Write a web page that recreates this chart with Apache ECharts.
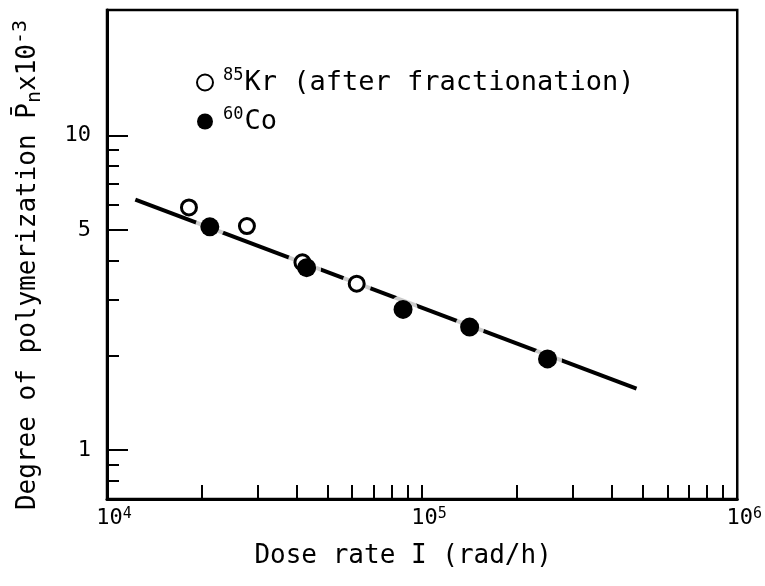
<!DOCTYPE html>
<html>
<head>
<meta charset="utf-8">
<script src="https://cdn.jsdelivr.net/npm/echarts@6/dist/echarts.min.js"></script>
<style>
  html, body { margin: 0; padding: 0; background: #fff; }
  #chart { width: 765px; height: 586px; }
</style>
</head>
<body>
<div id="chart"></div>
<script>
// Dose rate I (rad/h) against degree of polymerization (in units of 10^3)
const krDose = [18200, 27800, 41700, 62000];
const krDP   = [5.90, 5.15, 3.95, 3.38];
const coDose = [21200, 43000, 87000, 141500, 250000];
const coDP   = [5.12, 3.80, 2.80, 2.46, 1.95];

// straight line drawn through the points (log-log), given by its two ends
const fitDose = [12300, 479000];
const fitDP   = [6.25, 1.57];

// axis ticks and labels
const xLabelValues = [1e4, 1e5, 1e6];
const xTickValues  = [2e4, 3e4, 4e4, 5e4, 6e4, 7e4, 8e4, 9e4, 1e5,
                      2e5, 3e5, 4e5, 5e5, 6e5, 7e5, 8e5, 9e5];
const yLabelValues = [1, 5, 10];
const yMinorValues = [0.8, 0.9, 2, 3, 4, 6, 7, 8, 9];

const FONT = 'DejaVu Sans Mono';

const pairs = (xs, ys) => xs.map((x, i) => [x, ys[i]]);
const krData = pairs(krDose, krDP);
const coData = pairs(coDose, coDP);
const fitData = pairs(fitDose, fitDP);

// the line is interrupted around every filled point and around the open
// points that sit right on it
const lg = Math.log10;
const slope = (lg(fitDP[1]) - lg(fitDP[0])) / (lg(fitDose[1]) - lg(fitDose[0]));
const onLine = p => Math.abs(lg(p[1]) - (lg(fitDP[0]) + slope * (lg(p[0]) - lg(fitDose[0])))) < 0.02;
const gapData = coData.concat(krData.filter(onLine));

const chart = echarts.init(document.getElementById('chart'), null, { renderer: 'canvas' });

const tickLabelRich = {
  b: { fontFamily: FONT, fontSize: 22, color: '#000', padding: [0, 0, 0, 14] },
  s: { fontFamily: FONT, fontSize: 15, color: '#000', verticalAlign: 'top', lineHeight: 15 }
};

chart.setOption({
  animation: false,
  backgroundColor: '#fff',
  grid: {
    left: 107, right: 26, top: 10, bottom: 87,
    show: true, borderColor: '#000', borderWidth: 2.5, backgroundColor: 'transparent'
  },
  legend: {
    orient: 'vertical',
    left: 191, top: 62,
    itemWidth: 22, itemHeight: 16,
    itemGap: 10,
    selectedMode: false,
    data: ['Kr', 'Co'],
    formatter: name => name === 'Kr'
      ? '{sup|85}{t|Kr (after fractionation)}'
      : '{sup|60}{t|Co}',
    textStyle: {
      color: '#000', fontFamily: FONT, fontSize: 27,
      rich: {
        t: { fontFamily: FONT, fontSize: 27, color: '#000', lineHeight: 31 },
        sup: { fontFamily: FONT, fontSize: 17, color: '#000', verticalAlign: 'top', lineHeight: 17, padding: [0, 1, 0, 2] }
      }
    }
  },
  xAxis: [{
    type: 'log', logBase: 10, min: 1e4, max: 1e6,
    position: 'bottom',
    axisLine: { lineStyle: { color: '#000', width: 3 } },
    axisTick: { inside: true, length: 14, customValues: xTickValues, lineStyle: { color: '#000', width: 2 } },
    minorTick: { show: false },
    splitLine: { show: false },
    axisLabel: {
      customValues: xLabelValues,
      margin: 8,
      formatter: v => '{b|10}{s|' + Math.round(Math.log10(v)) + '}',
      rich: tickLabelRich
    },
    name: 'Dose rate I (rad/h)',
    nameLocation: 'middle',
    nameGap: 44,
    nameTextStyle: { fontFamily: FONT, fontSize: 26, color: '#000', padding: [0, 38, 0, 0] }
  }],
  yAxis: [{
    type: 'log', logBase: 10, min: 0.7, max: 25,
    position: 'left',
    axisLine: { lineStyle: { color: '#000', width: 3 } },
    axisTick: { inside: true, length: 21, customValues: yLabelValues, lineStyle: { color: '#000', width: 2 } },
    minorTick: { show: false },
    splitLine: { show: false },
    axisLabel: {
      customValues: yLabelValues,
      margin: 16,
      fontFamily: FONT, fontSize: 22, color: '#000'
    },
    name: '{t|Degree of polymerization P\u0304}{sub|n}{t|x10}{sup|-3}',
    nameLocation: 'middle',
    nameGap: 62,
    nameTextStyle: {
      fontFamily: FONT, fontSize: 26, color: '#000',
      padding: [0, 21, 0, 0],
      rich: {
        t: { fontFamily: FONT, fontSize: 26, color: '#000', lineHeight: 34 },
        sub: { fontFamily: FONT, fontSize: 20, color: '#000', verticalAlign: 'bottom', lineHeight: 20 },
        sup: { fontFamily: FONT, fontSize: 20, color: '#000', verticalAlign: 'top', lineHeight: 20 }
      }
    }
  }, {
    type: 'log', logBase: 10, min: 0.7, max: 25,
    position: 'left',
    axisLine: { show: false },
    axisTick: { inside: true, length: 12, customValues: yMinorValues, lineStyle: { color: '#000', width: 2 } },
    axisLabel: { show: false },
    splitLine: { show: false }
  }],
  series: [{
    name: 'fit',
    type: 'line',
    data: fitData,
    symbol: 'none',
    silent: true,
    z: 2,
    lineStyle: { color: '#000', width: 4 }
  }, {
    name: 'gap',
    type: 'scatter',
    data: gapData,
    symbol: 'circle',
    symbolSize: 29,
    silent: true,
    z: 3,
    itemStyle: { color: '#fff' }
  }, {
    name: 'Kr',
    type: 'scatter',
    data: krData,
    symbol: 'circle',
    symbolSize: 15,
    z: 4,
    itemStyle: { color: '#fff', borderColor: '#000', borderWidth: 3, opacity: 1 }
  }, {
    name: 'Co',
    type: 'scatter',
    data: coData,
    symbol: 'circle',
    symbolSize: 19,
    z: 5,
    itemStyle: { color: '#000', opacity: 1 }
  }]
});
</script>
</body>
</html>
